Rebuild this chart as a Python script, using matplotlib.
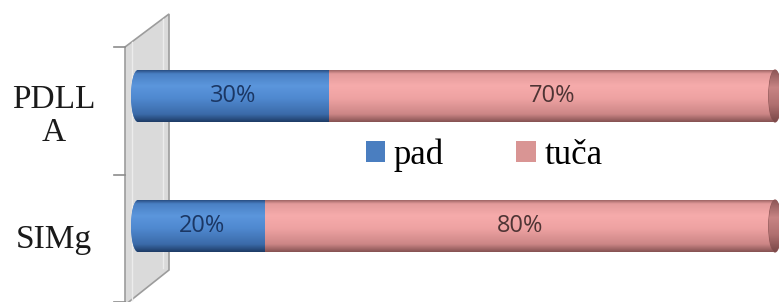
import matplotlib
matplotlib.use("Agg")
import matplotlib.pyplot as plt
import numpy as np
from matplotlib.patches import Polygon, Ellipse, Patch
from matplotlib.lines import Line2D
from matplotlib.colors import LinearSegmentedColormap

# ---- data ----
categories = ["SIMg", "PDLL\nA"]
series_names = ["pad", "tuča"]
pad_values = [20, 30]
tuca_values = [80, 70]

W, H = 779, 302
fig = plt.figure(figsize=(W / 100, H / 100), dpi=100)
ax = fig.add_axes([0, 0, 1, 1])
ax.axis("off")

# map: x=0 -> 138px, x=100 -> 775px ; y=1 -> 96px from top, y=0 -> 226px from top
pxu = (775 - 138) / 100.0
xlim = (-138 / pxu, 100 + (W - 775) / pxu)
pyu = 130.0
ylim = (-(H - 226) / pyu, 1 + 96 / pyu)

def P(x, y):
    return (x / W, 1 - y / H)

# ---- wall ----
wall = Polygon([P(125, 47), P(169, 14), P(169, 270), P(125, 305)], closed=True,
               transform=fig.transFigure, fc="#dadada", ec="#9c9c9c", lw=1.2,
               zorder=0, clip_on=False)
ax.add_patch(wall)
for (x0, y0, x1, y1) in [(132, 42, 132, 300), (163, 19, 163, 268)]:
    ax.add_line(Line2D([P(x0, y0)[0], P(x1, y1)[0]], [P(x0, y0)[1], P(x1, y1)[1]],
                       transform=fig.transFigure, color="#ececec", lw=1.0, zorder=0.5))
for ty in [47, 175, 302]:
    ax.add_line(Line2D([P(114, ty)[0], P(125, ty)[0]], [P(114, ty)[1], P(125, ty)[1]],
                       transform=fig.transFigure, color="#8c8c8c", lw=1.2, zorder=1))

# ---- cylinder gradients ----
blue_cmap = LinearSegmentedColormap.from_list("b", [
    (0.0, "#2a4f84"), (0.07, "#4a80c4"), (0.3, "#5b96dc"), (0.55, "#4f88cf"),
    (0.85, "#3b6ba9"), (1.0, "#1e3c66")])
pink_cmap = LinearSegmentedColormap.from_list("p", [
    (0.0, "#a06666"), (0.07, "#e39b9b"), (0.3, "#f6abab"), (0.55, "#eea2a2"),
    (0.85, "#cc8686"), (1.0, "#865252")])
grad = np.linspace(0, 1, 200).reshape(-1, 1)

bh = 0.40
cmaps = [blue_cmap, pink_cmap]
base_cols = ["#4f88cf", "#eea2a2"]
label_cols = ["#1b3764", "#4e3434"]
cap_w = 14 / pxu

for i, cat in enumerate(categories):
    left = 0
    vals = [pad_values[i], tuca_values[i]]
    for s, v in enumerate(vals):
        bars = ax.barh(i, v, left=left, height=bh, color=base_cols[s], lw=0, zorder=2)
        rect = bars.patches[0]
        im = ax.imshow(grad, cmap=cmaps[s], aspect="auto", origin="upper",
                       extent=(left, left + v, i - bh / 2, i + bh / 2), zorder=3)
        im.set_clip_path(rect)
        if s == 0:
            # rounded left end
            el = Ellipse((left, i), cap_w, bh, fc=base_cols[s], lw=0, zorder=2)
            ax.add_patch(el)
            im2 = ax.imshow(grad, cmap=cmaps[s], aspect="auto", origin="upper",
                            extent=(left - cap_w / 2, left + 0.1, i - bh / 2, i + bh / 2), zorder=3)
            im2.set_clip_path(el)
        ax.text(left + v / 2, i, f"{v}%", ha="center", va="center",
                fontsize=17, family=["Open Sans", "DejaVu Sans"],
                color=label_cols[s], zorder=5)
        left += v
    # right end cap
    el = Ellipse((left, i), cap_w * 0.9, bh, fc="#b57474", ec="#8f5858", lw=0.8, zorder=4)
    ax.add_patch(el)
    im3 = ax.imshow(grad, cmap=LinearSegmentedColormap.from_list("c", ["#8c5656", "#c88484", "#b07070", "#7a4848"]),
                    aspect="auto", origin="upper",
                    extent=(left - cap_w, left + cap_w, i - bh / 2, i + bh / 2), zorder=4)
    im3.set_clip_path(el)

ax.set_xlim(*xlim)
ax.set_ylim(*ylim)

# ---- category labels ----
cat_pos = [(54, 240), (54, 116)]
for cat, (cx, cy) in zip(categories, cat_pos):
    fig.text(*P(cx, cy), cat, ha="center", va="center", fontsize=24,
             family=["Liberation Serif", "DejaVu Serif"], color="#1a1a1a",
             linespacing=1.1)

# ---- legend ----
handles = [Patch(fc="#4a7ec0", ec="none"), Patch(fc="#d99594", ec="none")]
fig.legend(handles, series_names, loc="center", bbox_to_anchor=P(484, 155),
           ncol=2, frameon=False, handlelength=0.55, handleheight=0.55,
           handletextpad=0.25, columnspacing=2.1,
           prop={"family": ["Liberation Serif", "DejaVu Serif"], "size": 25})

fig.savefig("out.png", dpi=100)
